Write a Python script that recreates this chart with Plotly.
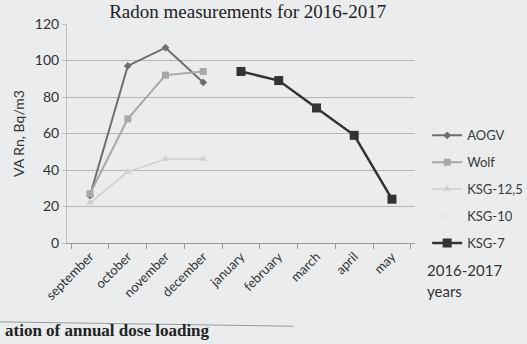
import plotly.graph_objects as go

months = ["september", "october", "november", "december", "january",
          "february", "march", "april", "may"]
aogv = [26, 97, 107, 88, None, None, None, None, None]
wolf = [27, 68, 92, 94, None, None, None, None, None]
ksg125 = [22, 39, 46, 46, None, None, None, None, None]
ksg10 = [None] * 9
ksg7 = [None, None, None, None, 94, 89, 74, 59, 24]
y_ticks = [0, 20, 40, 60, 80, 100, 120]

font = "Lato, 'Noto Sans', sans-serif"
serif = "'Liberation Serif', 'DejaVu Serif', serif"

fig = go.Figure()
series = [
    ("AOGV", aogv, "#6f6f6f", "diamond", 6, 2),
    ("Wolf", wolf, "#a8a8a8", "square", 7, 2),
    ("KSG-12,5", ksg125, "#cfcfcf", "triangle-up", 7, 1.5),
    ("KSG-10", ksg10, "#e4e6e8", "circle", 5, 1.5),
    ("KSG-7", ksg7, "#333333", "square", 9, 2.5),
]
for i, (name, vals, col, sym, ms, lw) in enumerate(series):
    fig.add_trace(go.Scatter(
        x=months, y=vals, name=name, mode="lines+markers",
        line=dict(color=col, width=lw),
        marker=dict(color=col, symbol=sym, size=ms),
        legendgroup=f"g{i}", connectgaps=False))

fig.update_layout(
    width=527, height=344,
    margin=dict(l=67, r=112, t=24, b=101, autoexpand=False),
    paper_bgcolor="#eaecee", plot_bgcolor="#eaecee",
    font=dict(family=font, size=13, color="#333333"),
    showlegend=True,
    legend=dict(x=1.035, y=0.56, xanchor="left", yanchor="top",
                bgcolor="rgba(0,0,0,0)", font=dict(size=13, color="#3a3a3a"),
                traceorder="grouped", tracegroupgap=7, itemwidth=30),
    title=dict(text="Radon measurements for 2016-2017",
               font=dict(family=serif, size=19, color="#222222"),
               x=0.47, xanchor="center", y=0.985, yanchor="top"),
)
fig.update_xaxes(
    type="category", categoryorder="array", categoryarray=months,
    tickangle=-45, tickfont=dict(size=13, color="#333333"),
    showline=True, linecolor="#9a9a9a", linewidth=1,
    ticks="outside", tickson="boundaries", ticklen=5, tickcolor="#9a9a9a",
    showgrid=False, zeroline=False)
fig.update_yaxes(
    range=[0, 120], tickvals=y_ticks, tickfont=dict(size=14, color="#333333"),
    showgrid=True, gridcolor="#b5b5b5", gridwidth=1,
    showline=True, linecolor="#c0c0c0", zeroline=False,
    ticks="outside", ticklen=4, tickcolor="#c0c0c0",
    title=dict(text="VA Rn, Bq/m3", font=dict(size=14, color="#333333"), standoff=6))

fig.add_annotation(text="2016-2017", xref="paper", yref="paper", x=1.03, y=-0.123,
                   xanchor="left", yanchor="middle", showarrow=False,
                   font=dict(size=15, color="#333333"))
fig.add_annotation(text="years", xref="paper", yref="paper", x=1.03, y=-0.22,
                   xanchor="left", yanchor="middle", showarrow=False,
                   font=dict(size=15, color="#333333"))
fig.add_shape(type="line", xref="paper", yref="paper", x0=-0.2, x1=0.65,
              y0=-0.36, y1=-0.38, line=dict(color="#9a9a9a", width=1))
fig.add_annotation(text="<b>ation of annual dose loading</b>", xref="paper", yref="paper",
                   x=-0.185, y=-0.45, xanchor="left", yanchor="bottom", showarrow=False,
                   font=dict(family=serif, size=17, color="#222222"))

fig.write_html("out.html")
